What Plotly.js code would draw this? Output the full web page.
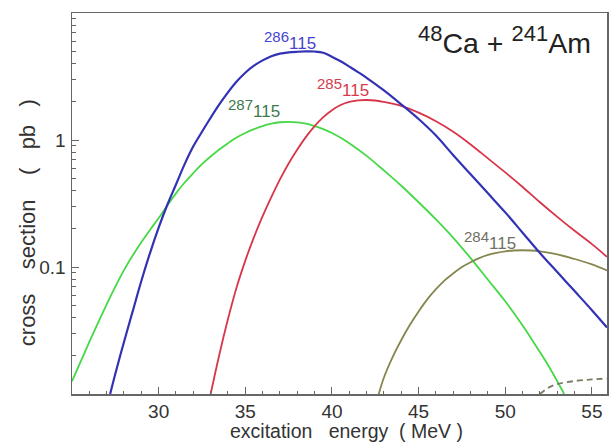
<!DOCTYPE html>
<html>
<head>
<meta charset="utf-8">
<script src="https://cdn.plot.ly/plotly-3.0.1.min.js"></script>
<style>html,body{margin:0;padding:0;background:#fff;}#chart{width:615px;height:442px;}</style>
</head>
<body>
<div id="chart"></div>
<script>
// excitation energy (MeV) and cross section (pb)
const e286 = [27.2, 27.5, 28.0, 28.5, 29.0, 29.5, 30.0, 30.5, 31.0, 31.5, 32.0, 32.5, 33.0, 33.5, 34.0, 34.5, 35.0, 35.5, 36.0, 36.5, 37.0, 37.5, 38.0, 38.5, 39.0, 39.5, 40.0, 40.5, 41.0, 41.5, 42.0, 43.0, 44.0, 45.0, 46.0, 47.0, 48.0, 49.0, 50.0, 51.0, 52.0, 53.0, 54.0, 55.0, 55.87];
const s286 = [0.0100, 0.01445, 0.0257, 0.0447, 0.0776, 0.1288, 0.2042, 0.3090, 0.4467, 0.6457, 0.8913, 1.161, 1.496, 1.905, 2.371, 2.884, 3.388, 3.846, 4.236, 4.571, 4.786, 4.898, 4.955, 4.989, 4.977, 4.864, 4.519, 4.169, 3.784, 3.428, 3.090, 2.455, 1.905, 1.462, 1.084, 0.7586, 0.5370, 0.3802, 0.2692, 0.1862, 0.1288, 0.0912, 0.0646, 0.0457, 0.0334];

const e285 = [33.0, 33.5, 34.0, 34.5, 35.0, 35.5, 36.0, 36.5, 37.0, 37.5, 38.0, 38.5, 39.0, 39.5, 40.0, 40.5, 41.0, 41.5, 42.0, 42.5, 43.0, 43.5, 44.0, 45.0, 46.0, 47.0, 48.0, 49.0, 50.0, 51.0, 52.0, 53.0, 54.0, 55.0, 55.87];
const s285 = [0.0100, 0.0204, 0.0389, 0.0692, 0.1122, 0.1718, 0.2512, 0.3548, 0.4898, 0.6531, 0.8414, 1.059, 1.288, 1.514, 1.718, 1.884, 1.995, 2.051, 2.065, 2.046, 1.995, 1.932, 1.854, 1.641, 1.406, 1.161, 0.9226, 0.7161, 0.5559, 0.4266, 0.3236, 0.2483, 0.1928, 0.1514, 0.1202];

const e287 = [25.0, 25.5, 26.0, 26.5, 27.0, 27.5, 28.0, 28.5, 29.0, 29.5, 30.0, 30.5, 31.0, 31.5, 32.0, 32.5, 33.0, 33.5, 34.0, 34.5, 35.0, 35.5, 36.0, 36.5, 37.0, 37.5, 38.0, 38.5, 39.0, 39.5, 40.0, 40.5, 41.0, 42.0, 43.0, 44.0, 45.0, 46.0, 47.0, 48.0, 49.0, 50.0, 51.0, 52.0, 52.5, 53.0, 53.4];
const s287 = [0.01259, 0.01799, 0.02570, 0.03631, 0.05070, 0.06998, 0.09441, 0.1230, 0.1567, 0.1959, 0.2427, 0.3055, 0.3802, 0.4624, 0.5495, 0.6457, 0.7413, 0.8414, 0.9441, 1.047, 1.135, 1.216, 1.288, 1.343, 1.380, 1.390, 1.377, 1.343, 1.288, 1.216, 1.135, 1.042, 0.9441, 0.7499, 0.5754, 0.4365, 0.3236, 0.2371, 0.1698, 0.1175, 0.07943, 0.05370, 0.03467, 0.02138, 0.01660, 0.01259, 0.0100];

const e284 = [42.7, 43.0, 43.5, 44.0, 44.5, 45.0, 45.5, 46.0, 46.5, 47.0, 47.5, 48.0, 48.5, 49.0, 49.5, 50.0, 50.5, 51.0, 51.5, 52.0, 53.0, 54.0, 55.0, 55.87];
const s284 = [0.0100, 0.01349, 0.01950, 0.02661, 0.03508, 0.04467, 0.05559, 0.06683, 0.07852, 0.08913, 0.1000, 0.1091, 0.1175, 0.1245, 0.1294, 0.1330, 0.1349, 0.1355, 0.1349, 0.1327, 0.1259, 0.1156, 0.1047, 0.0938];

const e283 = [52.0, 52.5, 53.0, 54.0, 55.0, 55.87];
const s283 = [0.0100, 0.01122, 0.01197, 0.01265, 0.01303, 0.01324];

const yTickVals = [0.01, 0.1, 1, 10];
const yTickText = ['', '0.1', '1', ''];
const yMinorVals = [0.02,0.03,0.04,0.05,0.06,0.07,0.08,0.09,0.2,0.3,0.4,0.5,0.6,0.7,0.8,0.9,2,3,4,5,6,7,8,9];
const xTickVals = [30, 35, 40, 45, 50, 55];

const traces = [
  {x: e287, y: s287, mode: 'lines', line: {color: '#46d846', width: 1.8, shape: 'spline'}},
  {x: e285, y: s285, mode: 'lines', line: {color: '#d8354a', width: 1.8, shape: 'spline'}},
  {x: e284, y: s284, mode: 'lines', line: {color: '#86864e', width: 1.8, shape: 'spline'}},
  {x: e283, y: s283, mode: 'lines', line: {color: '#7c7c64', width: 1.8, dash: '6px,4px', shape: 'spline'}},
  {x: e286, y: s286, mode: 'lines', line: {color: '#3232b4', width: 2.2, shape: 'spline'}}
];

const font = 'Arial, "Liberation Sans", Helvetica, sans-serif';
function iso(mass) {
  return '<sup><span style="font-size:15px">' + mass + '</span></sup>115';
}
const nb = '\u00a0';
const layout = {
  width: 615, height: 442,
  margin: {l: 72.3, r: 8.3, t: 13, b: 48},
  paper_bgcolor: '#fff', plot_bgcolor: '#fff',
  showlegend: false,
  font: {family: font, color: '#333'},
  xaxis: {
    type: 'linear', range: [25, 55.87],
    showline: true, linecolor: '#666', linewidth: 1.5, mirror: true,
    showgrid: false, zeroline: false,
    ticks: 'inside', ticklen: 7, tickwidth: 1, tickcolor: '#666',
    tickmode: 'array', tickvals: xTickVals,
    tickfont: {size: 19, color: '#333', family: font},
    minor: {ticks: 'inside', ticklen: 3.5, tickwidth: 1, tickcolor: '#666', dtick: 1, tick0: 25, showgrid: false}
  },
  yaxis: {
    type: 'log', range: [-2, 1],
    showline: true, linecolor: '#666', linewidth: 1.5, mirror: true,
    showgrid: false, zeroline: false,
    ticks: 'inside', ticklen: 7, tickwidth: 1, tickcolor: '#666',
    tickmode: 'array', tickvals: yTickVals, ticktext: yTickText,
    tickfont: {size: 19, color: '#333', family: font},
    ticklabelstandoff: 1,
    minor: {ticks: 'inside', ticklen: 3.5, tickwidth: 1, tickcolor: '#666', tickmode: 'array', tickvals: yMinorVals, showgrid: false}
  },
  annotations: [
    {xref: 'paper', yref: 'paper', x: 0.514, y: -0.098, xanchor: 'center', yanchor: 'middle', showarrow: false,
     text: 'excitation' + nb + nb + nb + 'energy' + nb + nb + '(' + nb + 'MeV' + nb + ')', font: {size: 19.5, color: '#333', family: font}},
    {xref: 'paper', yref: 'paper', x: -0.0829, y: 0.450, xanchor: 'center', yanchor: 'middle', showarrow: false, textangle: -90,
     text: 'cross' + nb.repeat(4) + 'section' + nb.repeat(4) + '(' + nb.repeat(3) + 'pb' + nb.repeat(3) + ')', font: {size: 22, color: '#333', family: font}},
    {xref: 'x', yref: 'y', x: 49.94, y: 0.79, xanchor: 'center', yanchor: 'middle', showarrow: false,
     text: '<sup><span style="font-size:22px">48</span></sup>Ca + <sup><span style="font-size:22px">241</span></sup>Am', font: {size: 28.5, color: '#222', family: font}},
    {xref: 'x', yref: 'y', x: 37.58, y: 0.787, xanchor: 'center', yanchor: 'middle', showarrow: false,
     text: iso('286'), font: {size: 17, color: '#4444cc', family: font}},
    {xref: 'x', yref: 'y', x: 40.64, y: 0.416, xanchor: 'center', yanchor: 'middle', showarrow: false,
     text: iso('285'), font: {size: 17, color: '#d43c4c', family: font}},
    {xref: 'x', yref: 'y', x: 35.48, y: 0.250, xanchor: 'center', yanchor: 'middle', showarrow: false,
     text: iso('287'), font: {size: 17, color: '#3c7a4c', family: font}},
    {xref: 'x', yref: 'y', x: 49.13, y: -0.792, xanchor: 'center', yanchor: 'middle', showarrow: false,
     text: iso('284'), font: {size: 17, color: '#707064', family: font}}
  ]
};

Plotly.newPlot('chart', traces, layout, {displayModeBar: false, staticPlot: true});
</script>
</body>
</html>
